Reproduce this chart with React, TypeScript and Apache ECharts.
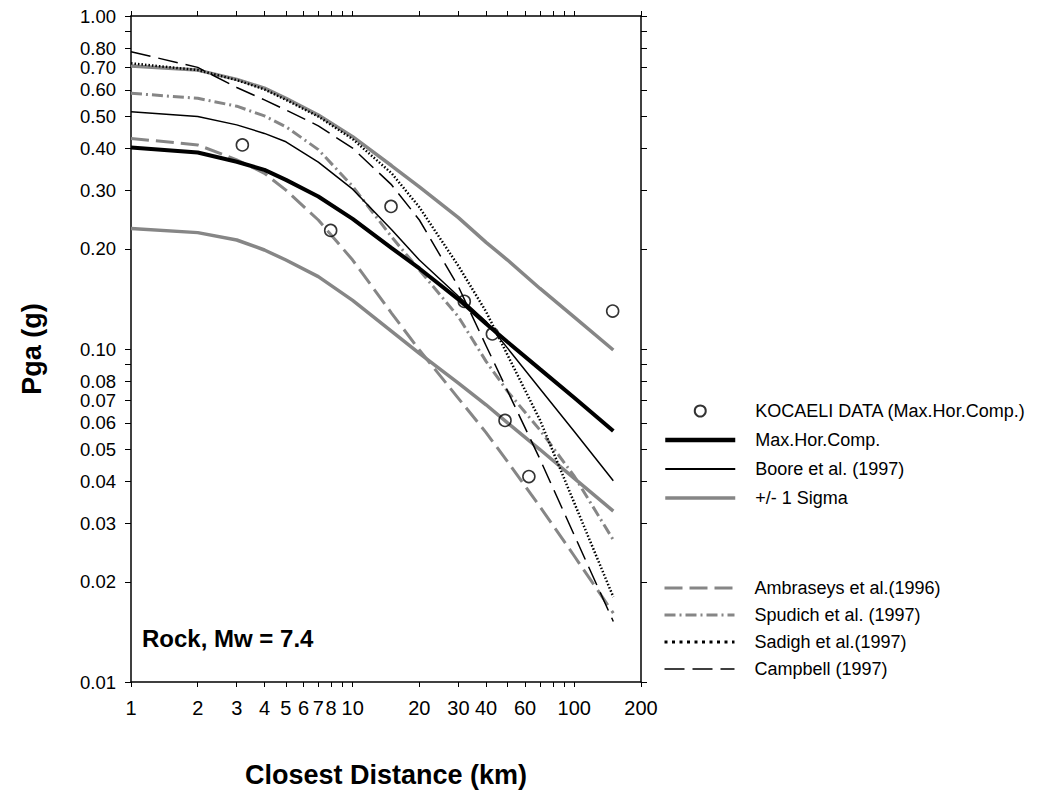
import React, { useEffect, useRef } from "react";
import * as echarts from "echarts";

// Closest distance (km) at which the attenuation relations are evaluated
const distances = [1, 2, 3, 4, 5, 7, 10, 15, 20, 30, 40, 50, 70, 100, 150];

// Peak ground acceleration (g) for each relation
const maxHorComp = [0.403, 0.389, 0.365, 0.345, 0.322, 0.287, 0.246, 0.201, 0.1745, 0.141, 0.119, 0.105, 0.087, 0.0714, 0.0567];
const boore = [0.516, 0.499, 0.471, 0.444, 0.419, 0.364, 0.302, 0.228, 0.185, 0.144, 0.121, 0.1006, 0.076, 0.0565, 0.0402];
const sigmaUpper = [0.708, 0.688, 0.645, 0.607, 0.566, 0.504, 0.434, 0.355, 0.307, 0.248, 0.209, 0.185, 0.152, 0.1246, 0.0993];
const sigmaLower = [0.23, 0.2236, 0.2125, 0.1983, 0.185, 0.165, 0.14, 0.113, 0.097, 0.079, 0.068, 0.06, 0.0499, 0.0409, 0.0326];
const ambraseys = [0.429, 0.41, 0.37, 0.337, 0.3, 0.244, 0.185, 0.128, 0.0993, 0.0711, 0.0561, 0.0459, 0.0336, 0.0239, 0.0161];
const spudich = [0.586, 0.566, 0.536, 0.501, 0.465, 0.397, 0.308, 0.217, 0.1727, 0.125, 0.0918, 0.0746, 0.0571, 0.0415, 0.0267];
const sadigh = [0.721, 0.688, 0.642, 0.602, 0.56, 0.499, 0.427, 0.337, 0.2665, 0.1776, 0.1294, 0.0959, 0.0612, 0.0345, 0.018];
const campbell = [0.781, 0.701, 0.61, 0.56, 0.522, 0.468, 0.401, 0.311, 0.244, 0.154, 0.1023, 0.0748, 0.0467, 0.0276, 0.0152];

// Recorded stations (Kocaeli earthquake, max. horizontal component)
const kocaeliDistance = [3.18, 7.96, 14.9, 31.9, 42.7, 48.7, 62.4, 149];
const kocaeliPga = [0.41, 0.227, 0.268, 0.139, 0.111, 0.061, 0.0414, 0.13];

// Axis ticks and labelled ticks
const xTickValues = [1, 2, 3, 4, 5, 6, 7, 8, 9, 10, 20, 30, 40, 50, 60, 70, 80, 90, 100, 200];
const xLabelValues = [1, 2, 3, 4, 5, 6, 7, 8, 10, 20, 30, 40, 60, 100, 200];
const yTickValues = [0.01, 0.02, 0.03, 0.04, 0.05, 0.06, 0.07, 0.08, 0.09, 0.1, 0.2, 0.3, 0.4, 0.5, 0.6, 0.7, 0.8, 0.9, 1];
const yLabelValues = [0.01, 0.02, 0.03, 0.04, 0.05, 0.06, 0.07, 0.08, 0.1, 0.2, 0.3, 0.4, 0.5, 0.6, 0.7, 0.8, 1];

const X_MIN = 1;
const X_MAX = 200;
const Y_MIN = 0.01;
const Y_MAX = 1;

const FONT = "'Liberation Sans', Arial, Helvetica, sans-serif";
const GRAY = "#868686";

const pairs = (ys: number[]) => distances.map((d, i) => [d, ys[i]]);

export default function App() {
  const ref = useRef<HTMLDivElement>(null);

  useEffect(() => {
    document.body.style.margin = "0";
    if (!ref.current) return;
    const chart = echarts.init(ref.current, undefined, { renderer: "svg" });

    const lx = Math.log10;
    const tickAxisX = (position: "top" | "bottom", labels: boolean) => ({
      type: "value",
      gridIndex: 0,
      position,
      min: lx(X_MIN),
      max: lx(X_MAX),
      axisLine: { show: true, onZero: false, lineStyle: { color: "#000", width: 1.5 } },
      axisTick: {
        show: true,
        inside: false,
        length: 5,
        customValues: xTickValues.map(lx),
        lineStyle: { color: "#000", width: 1 },
      },
      axisLabel: labels
        ? {
            show: true,
            customValues: xLabelValues.map(lx),
            formatter: (v: number) => String(Math.round(Math.pow(10, v))),
            margin: 16,
            fontSize: 20,
            lineHeight: 20,
            color: "#000",
            fontFamily: FONT,
          }
        : { show: false },
      splitLine: { show: false },
    });
    const tickAxisY = (position: "left" | "right", labels: boolean) => ({
      type: "value",
      gridIndex: 0,
      position,
      min: lx(Y_MIN),
      max: lx(Y_MAX),
      axisLine: { show: true, onZero: false, lineStyle: { color: "#000", width: 1.5 } },
      axisTick: {
        show: true,
        inside: false,
        length: 6,
        customValues: yTickValues.map(lx),
        lineStyle: { color: "#000", width: 1 },
      },
      axisLabel: labels
        ? {
            show: true,
            customValues: yLabelValues.map(lx),
            formatter: (v: number) => Math.pow(10, v).toFixed(2),
            margin: 15,
            fontSize: 18.5,
            lineHeight: 18,
            color: "#000",
            fontFamily: FONT,
          }
        : { show: false },
      splitLine: { show: false },
    });

    const lineSeries = (name: string, ys: number[], color: string, width: number, type: any) => ({
      name,
      type: "line",
      xAxisIndex: 0,
      yAxisIndex: 0,
      data: pairs(ys),
      symbol: "none",
      smooth: false,
      lineStyle: { color, width, type },
      itemStyle: { color },
      emphasis: { disabled: true },
    });

    const legendText = {
      fontSize: 18,
      fontFamily: FONT,
      color: "#000",
      lineHeight: 20,
      padding: [0, 0, 0, 15],
    };
    const lineItem = (name: string, width: number, type?: any) => ({
      name,
      itemStyle: { opacity: 0 },
      lineStyle: type ? { width, type } : { width },
    });

    chart.setOption({
      animation: false,
      backgroundColor: "#fff",
      grid: { left: 131, top: 16, width: 510, height: 666, containLabel: false },
      xAxis: [
        { type: "log", logBase: 10, min: X_MIN, max: X_MAX, show: false, gridIndex: 0 },
        {
          ...tickAxisX("bottom", true),
          name: "Closest Distance (km)",
          nameLocation: "middle",
          nameGap: 79,
          nameTextStyle: { fontSize: 27, fontWeight: "bold", color: "#000", fontFamily: FONT },
        },
        tickAxisX("top", false),
      ],
      yAxis: [
        { type: "log", logBase: 10, min: Y_MIN, max: Y_MAX, show: false, gridIndex: 0 },
        {
          ...tickAxisY("left", true),
          name: "Pga (g)",
          nameLocation: "middle",
          nameGap: 86,
          nameTextStyle: { fontSize: 27, fontWeight: "bold", color: "#000", fontFamily: FONT },
        },
        tickAxisY("right", false),
      ],
      legend: [
        {
          orient: "vertical",
          left: 663,
          top: 401,
          padding: 0,
          itemWidth: 70,
          itemHeight: 11,
          itemGap: 9,
          selectedMode: false,
          textStyle: legendText,
          data: [
            { name: "KOCAELI DATA (Max.Hor.Comp.)" },
            lineItem("Max.Hor.Comp.", 4.5),
            lineItem("Boore et al. (1997)", 2),
            lineItem("+/- 1 Sigma", 3.5),
          ],
        },
        {
          orient: "vertical",
          left: 663,
          top: 578,
          padding: 0,
          itemWidth: 70,
          itemHeight: 11,
          itemGap: 7,
          selectedMode: false,
          textStyle: legendText,
          data: [
            lineItem("Ambraseys et al.(1996)", 3),
            lineItem("Spudich et al. (1997)", 3),
            lineItem("Sadigh et al.(1997)", 3, [3, 4.5]),
            lineItem("Campbell (1997)", 1.5),
          ],
        },
      ],
      graphic: [
        {
          type: "text",
          left: 142,
          top: 626,
          style: {
            text: "Rock, Mw = 7.4",
            font: `bold 24px ${FONT}`,
            fill: "#000",
          },
        },
      ],
      series: [
        lineSeries("+/- 1 Sigma", sigmaUpper, GRAY, 3.5, "solid"),
        lineSeries("+/- 1 Sigma", sigmaLower, GRAY, 3.5, "solid"),
        lineSeries("Ambraseys et al.(1996)", ambraseys, GRAY, 3, [18, 7]),
        lineSeries("Spudich et al. (1997)", spudich, GRAY, 3, [11, 4, 2, 4]),
        lineSeries("Boore et al. (1997)", boore, "#000", 1.5, "solid"),
        lineSeries("Max.Hor.Comp.", maxHorComp, "#000", 4, "solid"),
        lineSeries("Sadigh et al.(1997)", sadigh, "#000", 2.5, [1.5, 2]),
        lineSeries("Campbell (1997)", campbell, "#000", 1.5, [20, 8]),
        {
          name: "KOCAELI DATA (Max.Hor.Comp.)",
          type: "scatter",
          xAxisIndex: 0,
          yAxisIndex: 0,
          data: kocaeliDistance.map((d, i) => [d, kocaeliPga[i]]),
          symbol: "circle",
          symbolSize: 12,
          itemStyle: { color: "rgba(255,255,255,0)", borderColor: "#000", borderWidth: 1.6 },
          emphasis: { disabled: true },
          z: 5,
        },
      ],
    });

    return () => chart.dispose();
  }, []);

  return <div ref={ref} style={{ width: 1040, height: 794 }} />;
}
